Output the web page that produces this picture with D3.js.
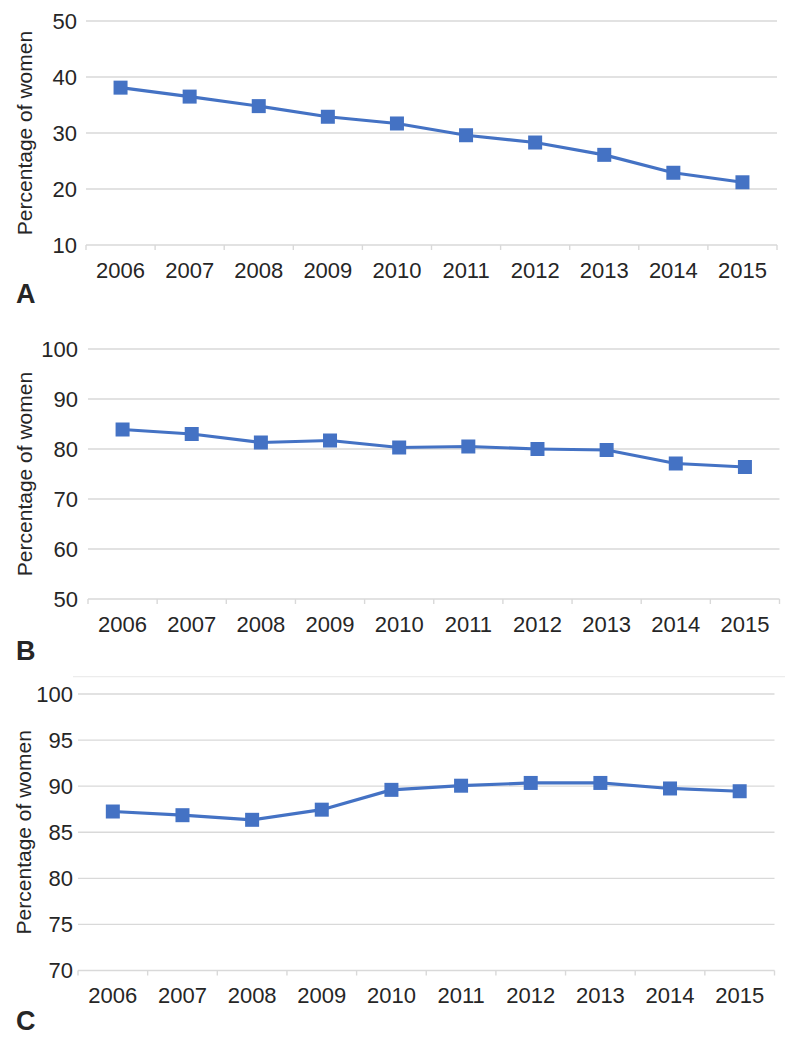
<!DOCTYPE html>
<html>
<head>
<meta charset="utf-8">
<script src="https://cdn.jsdelivr.net/npm/d3@7"></script>
<style>
  html, body { margin: 0; padding: 0; background: #fff; }
  svg { display: block; }
  text { font-family: "Liberation Sans", Arial, sans-serif; fill: #262626; }
</style>
</head>
<body>
<svg id="chart" width="800" height="1039"></svg>
<script>
const years = ["2006","2007","2008","2009","2010","2011","2012","2013","2014","2015"];
const seriesA = [38.1, 36.5, 34.8, 32.9, 31.7, 29.6, 28.3, 26.1, 22.9, 21.2];
const seriesB = [83.9, 83.0, 81.3, 81.7, 80.3, 80.5, 80.0, 79.8, 77.1, 76.4];
const seriesC = [87.25, 86.85, 86.35, 87.45, 89.6, 90.05, 90.35, 90.35, 89.75, 89.45];
const ticksA = [10, 20, 30, 40, 50];
const ticksB = [50, 60, 70, 80, 90, 100];
const ticksC = [70, 75, 80, 85, 90, 95, 100];
const panelLabels = ["A", "B", "C"];
const yTitle = "Percentage of women";

const panels = [
  { values: seriesA, ticks: ticksA, label: panelLabels[0],
    left: 86, right: 777, top: 21, bottom: 245, yLabelX: 77, titleX: 25, labelY: 303 },
  { values: seriesB, ticks: ticksB, label: panelLabels[1],
    left: 88, right: 779.5, top: 349, bottom: 599, yLabelX: 78, titleX: 25, labelY: 660 },
  { values: seriesC, ticks: ticksC, label: panelLabels[2],
    left: 78, right: 774.5, top: 694, bottom: 970.5, yLabelX: 73, titleX: 24, labelY: 1030 }
];

const svg = d3.select("#chart");
const blue = "#4472C4";
const grid = "#d9d9d9";
const font = '"Liberation Sans", Arial, sans-serif';

// faint border line above panel C (from source image)
svg.append("line").attr("x1", 73).attr("x2", 785).attr("y1", 676.7).attr("y2", 676.7)
  .attr("stroke", "#ececec").attr("stroke-width", 1.2);

panels.forEach(p => {
  const g = svg.append("g");
  const x = d3.scaleBand().domain(years).range([p.left, p.right]).paddingInner(0).paddingOuter(0);
  const y = d3.scaleLinear().domain(d3.extent(p.ticks)).range([p.bottom, p.top]);

  // gridlines (excluding baseline)
  g.selectAll(".grid").data(p.ticks.slice(1)).join("line")
    .attr("x1", p.left).attr("x2", p.right)
    .attr("y1", d => y(d)).attr("y2", d => y(d))
    .attr("stroke", grid).attr("stroke-width", 1.4);

  // x axis
  const xAxis = d3.axisBottom(x).tickSize(0).tickPadding(0);
  const ax = g.append("g").attr("transform", `translate(0,${p.bottom})`).call(xAxis);
  ax.select(".domain").remove();
  ax.selectAll("text")
    .attr("y", 25).attr("dy", "0.35em")
    .style("font-size", "22px")
    .style("font-family", font)
    .attr("fill", "#262626");
  g.append("line").attr("x1", p.left).attr("x2", p.right)
    .attr("y1", p.bottom).attr("y2", p.bottom)
    .attr("stroke", grid).attr("stroke-width", 1.4);
  const bounds = years.map(d => x(d)).concat([x(years[years.length - 1]) + x.bandwidth()]);
  g.selectAll(".xt").data(bounds).join("line")
    .attr("x1", d => d).attr("x2", d => d)
    .attr("y1", p.bottom).attr("y2", p.bottom + 5)
    .attr("stroke", grid).attr("stroke-width", 1.4);

  // y axis labels
  const yAxis = d3.axisLeft(y).tickValues(p.ticks).tickSize(0).tickPadding(0);
  const ay = g.append("g").attr("transform", `translate(${p.yLabelX},0)`).call(yAxis);
  ay.select(".domain").remove();
  ay.selectAll("text")
    .style("font-size", "22px")
    .style("font-family", font)
    .attr("fill", "#262626");

  // y title
  g.append("text")
    .attr("transform", `translate(${p.titleX},${(p.top + p.bottom) / 2}) rotate(-90)`)
    .attr("text-anchor", "middle").attr("dy", "0.35em")
    .style("font-size", "21px")
    .text(yTitle);

  // line
  const line = d3.line()
    .x((d, i) => x(years[i]) + x.bandwidth() / 2)
    .y(d => y(d));
  g.append("path").datum(p.values)
    .attr("d", line).attr("fill", "none")
    .attr("stroke", blue).attr("stroke-width", 3.2).attr("stroke-linejoin", "round");

  // markers
  const ms = 14;
  g.selectAll(".m").data(p.values).join("rect")
    .attr("x", (d, i) => x(years[i]) + x.bandwidth() / 2 - ms / 2)
    .attr("y", d => y(d) - ms / 2)
    .attr("width", ms).attr("height", ms)
    .attr("fill", blue);

  // panel label
  g.append("text").attr("x", 16).attr("y", p.labelY)
    .style("font-size", "27px").style("font-weight", "bold")
    .attr("fill", "#1a1a1a")
    .text(p.label);
});
</script>
</body>
</html>
